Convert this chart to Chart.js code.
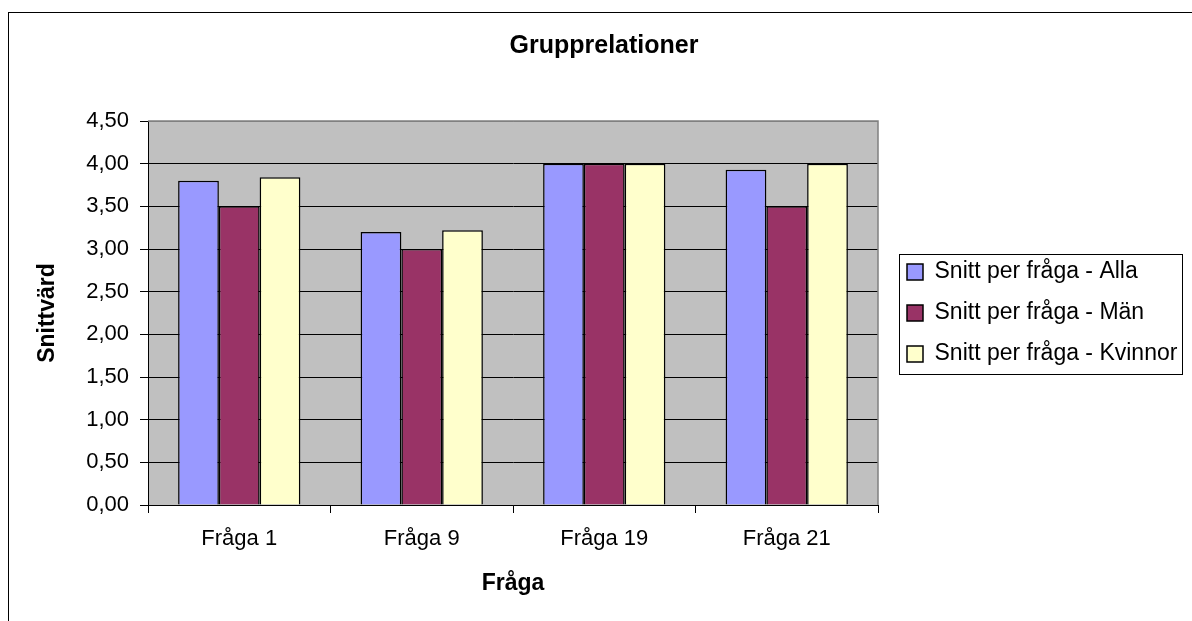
<!DOCTYPE html>
<html>
<head>
<meta charset="utf-8">
<script src="https://cdn.jsdelivr.net/npm/chart.js"></script>
<style>
  body { margin: 0; background: #fff; }
  #frame { position: absolute; left: 8px; top: 12px; width: 1300px; height: 700px;
           border-left: 1px solid #000; border-top: 1px solid #000; }
  #chart { position: absolute; left: 0; top: 0; }
</style>
</head>
<body>
<div id="frame"></div>
<canvas id="chart" width="1192" height="621"></canvas>
<script>
// data
const categories = ['Fråga 1', 'Fråga 9', 'Fråga 19', 'Fråga 21'];
const seriesNames = ['Snitt per fråga - Alla', 'Snitt per fråga - Män', 'Snitt per fråga - Kvinnor'];
const alla = [3.80, 3.20, 4.00, 3.93];
const man = [3.50, 3.00, 4.00, 3.50];
const kvinnor = [3.84, 3.22, 4.00, 4.00];
const yTickLabels = ['0,00', '0,50', '1,00', '1,50', '2,00', '2,50', '3,00', '3,50', '4,00', '4,50'];

const colors = ['#9999FF', '#993366', '#FFFFCC'];
const font = "'Liberation Sans', Arial, sans-serif";

Chart.defaults.font.family = font;
Chart.defaults.color = '#000';

// grey plot background + grey top/right edge
const plotFrame = {
  id: 'plotFrame',
  beforeDraw(chart) {
    const { ctx, chartArea: a } = chart;
    ctx.save();
    ctx.fillStyle = '#C0C0C0';
    ctx.fillRect(a.left, a.top, a.right - a.left, a.bottom - a.top);
    ctx.restore();
  },
  afterDatasetsDraw(chart) {
    const { ctx, chartArea: a } = chart;
    ctx.save();
    ctx.strokeStyle = '#808080';
    ctx.lineWidth = 1.5;
    ctx.beginPath();
    ctx.moveTo(a.left, a.top);
    ctx.lineTo(a.right, a.top);
    ctx.lineTo(a.right, a.bottom);
    ctx.stroke();
    ctx.restore();
  }
};

// legend gets a fixed width (the layout would cap it at a quarter of the canvas)
// and a border round its items
const legendBox = {
  id: 'legendBox',
  beforeLayout(chart) {
    const lg = chart.legend;
    if (lg && !lg._fixedWidth) {
      const fit = lg.fit;
      lg.fit = function () {
        fit.call(this);
        this.width = 1192 - 889;
      };
      lg._fixedWidth = true;
    }
  },
  afterDraw(chart) {
    const boxes = chart.legend.legendHitBoxes;
    if (!boxes || !boxes.length) return;
    const left = Math.min(...boxes.map(b => b.left)) - 8;
    const right = Math.max(...boxes.map(b => b.left + b.width)) + 5;
    const top = Math.min(...boxes.map(b => b.top)) - 7;
    const bottom = Math.max(...boxes.map(b => b.top + b.height)) + 8;
    const ctx = chart.ctx;
    ctx.save();
    ctx.strokeStyle = '#000';
    ctx.lineWidth = 1;
    ctx.strokeRect(Math.round(left) + 0.5, Math.round(top) + 0.5, Math.round(right - left), Math.round(bottom - top));
    ctx.restore();
  }
};

new Chart(document.getElementById('chart'), {
  type: 'bar',
  data: {
    labels: categories,
    datasets: [alla, man, kvinnor].map((d, i) => ({
      label: seriesNames[i],
      data: d,
      backgroundColor: colors[i],
      borderColor: '#000',
      borderWidth: 1.5,
      categoryPercentage: 0.67,
      barPercentage: 1.0
    }))
  },
  options: {
    responsive: false,
    animation: false,
    layout: { padding: { left: 16, right: 0, top: 0, bottom: 0 } },
    plugins: {
      title: {
        display: true,
        text: 'Grupprelationer',
        font: { size: 25, weight: 'bold' },
        padding: { top: 31, bottom: 60 }
      },
      legend: {
        position: 'right',
        fullSize: false,
        align: 'center',
        labels: {
          boxWidth: 16,
          boxHeight: 16,
          padding: 18,
          font: { size: 23 }
        }
      },
      tooltip: { enabled: false }
    },
    scales: {
      x: {
        grid: { offset: true, drawOnChartArea: false, drawTicks: true, tickLength: 8, color: '#000' },
        border: { color: '#000', width: 1 },
        ticks: { font: { size: 22 }, padding: 13 },
        title: { display: true, text: 'Fråga', font: { size: 23, weight: 'bold' }, padding: { top: 0, bottom: 24 } },
        afterFit(s) { s.height = 116; }
      },
      y: {
        min: 0,
        max: 4.5,
        ticks: {
          stepSize: 0.5,
          font: { size: 22 },
          padding: 11,
          callback: (v, i) => yTickLabels[i]
        },
        grid: {
          color: c => (c.tick && c.tick.value === 4.5) ? '#808080' : '#000',
          tickColor: '#000',
          tickLength: 8,
          lineWidth: 1
        },
        border: { color: '#000', width: 1 },
        title: { display: true, text: 'Snittvärd', font: { size: 23, weight: 'bold' }, padding: { top: 18, bottom: 0 } },
        afterFit(s) { s.width = 148 - 16; }
      },
      // spacer between the plot and the legend
      gap: {
        type: 'linear',
        axis: 'y',
        position: 'right',
        grid: { display: false },
        ticks: { display: false },
        border: { display: false },
        afterFit(s) { s.width = 11; }
      }
    }
  },
  plugins: [plotFrame, legendBox]
});
</script>
</body>
</html>
